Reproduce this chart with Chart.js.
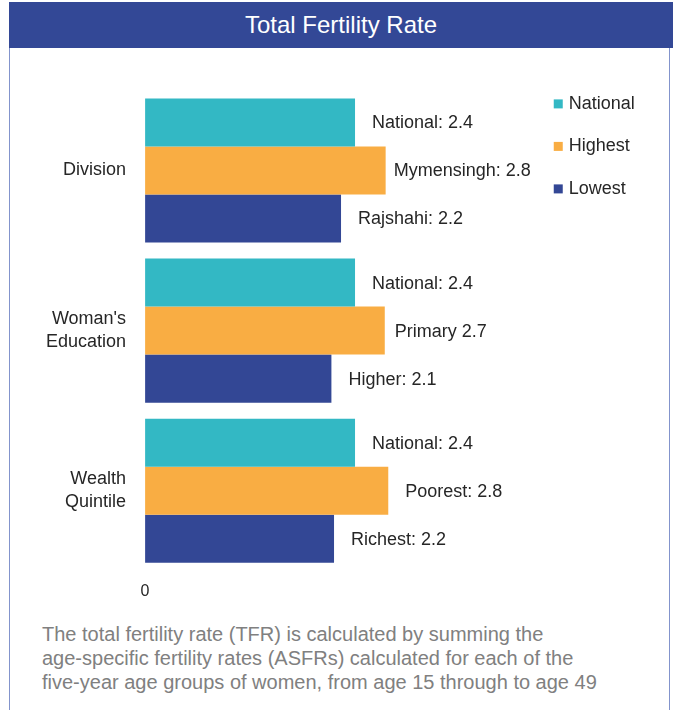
<!DOCTYPE html>
<html lang="en">
<head>
  <meta charset="UTF-8">
  <title>Total Fertility Rate</title>
  <script src="https://cdn.jsdelivr.net/npm/chart.js"></script>
  <style>
    body {
      margin: 0;
      background: #fff;
      font-family: "Liberation Sans", Arial, sans-serif;
    }
    #pagina {
      position: relative;
      width: 673px;
      height: 710px;
      overflow: hidden;
    }
    #moldura {
      position: absolute;
      left: 9px;
      top: 2px;
      width: 659px;
      height: 760px;
      border: 1px solid #8394cc;
    }
    #titulo {
      position: absolute;
      left: 9px;
      top: 2px;
      width: 664px;
      height: 46px;
      background: #334896;
      color: #fff;
      font-size: 24px;
      line-height: 46px;
      text-align: center;
    }
    #grafico {
      position: absolute;
      left: 10px;
      top: 48px;
    }
    #nota {
      position: absolute;
      left: 42px;
      top: 622px;
      margin: 0;
      font-size: 20px;
      line-height: 24px;
      color: #808080;
    }
  </style>
</head>
<body>
  <div id="pagina">
    <div id="moldura"></div>
    <div id="titulo">Total Fertility Rate</div>
    <canvas id="grafico" width="659" height="570"></canvas>
    <p id="nota">The total fertility rate (TFR) is calculated by summing the<br>
      age-specific fertility rates (ASFRs) calculated for each of the<br>
      five-year age groups of women, from age 15 through to age 49</p>
  </div>

  <script>
    // categorias e series
    const categorias = ['Division', ["Woman's", 'Education'], ['Wealth', 'Quintile']];
    const series = ['National', 'Highest', 'Lowest'];
    const national = [2.4, 2.4, 2.4];
    const highest = [2.75, 2.74, 2.78];
    const lowest = [2.24, 2.13, 2.16];
    const rotulosNational = ['National: 2.4', 'National: 2.4', 'National: 2.4'];
    const rotulosHighest = ['Mymensingh: 2.8', 'Primary 2.7', 'Poorest: 2.8'];
    const rotulosLowest = ['Rajshahi: 2.2', 'Higher: 2.1', 'Richest: 2.2'];
    const xTicks = [0];

    const cores = ['#33b8c4', '#f9ad43', '#334795'];
    const corTexto = '#262626';
    const fonte = '"Liberation Sans", Arial, sans-serif';
    // distancia do rotulo ao fim da barra
    const espacoRotulo = [[17, 17, 17], [8, 10, 17], [17, 17, 17]];

    const rotulosBarras = {
      id: 'rotulosBarras',
      afterDatasetsDraw(chart) {
        const ctx = chart.ctx;
        ctx.save();
        ctx.font = '18px ' + fonte;
        ctx.fillStyle = corTexto;
        ctx.textAlign = 'left';
        ctx.textBaseline = 'middle';
        chart.data.datasets.forEach((ds, i) => {
          chart.getDatasetMeta(i).data.forEach((bar, j) => {
            ctx.fillText(ds.rotulos[j], bar.x + espacoRotulo[i][j], bar.y + 1);
          });
        });
        ctx.restore();
      }
    };

    const legenda = {
      id: 'legenda',
      afterDraw(chart) {
        const ctx = chart.ctx;
        const area = chart.chartArea;
        ctx.save();
        ctx.font = '18px ' + fonte;
        ctx.textBaseline = 'middle';
        chart.data.datasets.forEach((ds, i) => {
          const y = area.top + 13.5 + i * 42.5;
          const x = area.right + 15;
          ctx.fillStyle = ds.backgroundColor;
          ctx.fillRect(x, y - 4.5, 9, 9);
          ctx.fillStyle = corTexto;
          ctx.fillText(ds.label, x + 15, y);
        });
        ctx.restore();
      }
    };

    const valores = [national, highest, lowest];
    const rotulos = [rotulosNational, rotulosHighest, rotulosLowest];

    new Chart(document.getElementById('grafico'), {
      type: 'bar',
      data: {
        labels: categorias,
        datasets: series.map((s, i) => ({
          label: s,
          data: valores[i],
          rotulos: rotulos[i],
          backgroundColor: cores[i],
          borderWidth: 0,
          categoryPercentage: 0.9,
          barPercentage: 1.0
        }))
      },
      options: {
        indexAxis: 'y',
        responsive: false,
        animation: false,
        devicePixelRatio: 1,
        layout: { padding: { top: 41, left: 17, right: 130.25, bottom: 6 } },
        plugins: {
          legend: { display: false },
          tooltip: { enabled: false }
        },
        scales: {
          x: {
            min: 0,
            max: 4.5,
            afterBuildTicks: s => { s.ticks = xTicks.map(v => ({ value: v })); },
            grid: { display: false, drawTicks: false },
            border: { display: false },
            ticks: { padding: 11, color: corTexto, font: { family: fonte, size: 16 } }
          },
          y: {
            grid: { display: false, drawTicks: false },
            border: { display: false },
            ticks: { padding: 19, color: corTexto, font: { family: fonte, size: 18, lineHeight: 1.3 } }
          }
        }
      },
      plugins: [rotulosBarras, legenda]
    });
  </script>
</body>
</html>
